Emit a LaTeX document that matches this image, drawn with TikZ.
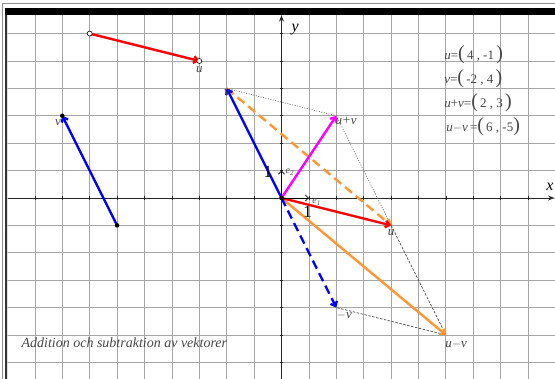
\documentclass[tikz,border=0pt]{standalone}
\usepackage{fontspec}
\setmainfont{Liberation Serif}
\usetikzlibrary{arrows.meta,positioning,calc}
\tikzset{every picture/.style={line width=0.75pt}}
\definecolor{vorange}{RGB}{255,150,50}
\definecolor{vmagenta}{RGB}{255,0,255}
\definecolor{lblgray}{RGB}{70,70,70}
\newcommand{\lpar}{{\fontsize{20}{20}\selectfont(}}
\newcommand{\rpar}{{\fontsize{20}{20}\selectfont)}}
\tikzset{
    gridline/.style={draw=black!35, line width=0.8pt},
    axisline/.style={draw=black!85, line width=0.9pt, -{Stealth[length=6pt,width=5pt]}},
    vec/.style={line width=2.4pt, -{Straight Barb[length=4pt,width=7pt]}},
    dvec/.style={vec, dash pattern=on 9pt off 5pt},
    helper/.style={draw=black!60, line width=0.7pt, dash pattern=on 1pt off 1.5pt},
    helperdash/.style={draw=black!75, line width=0.7pt, dash pattern=on 2.5pt off 1.5pt},
    lbl/.style={font=\itshape\fontsize{13}{13}\selectfont, text=lblgray, inner sep=1pt},
    unitvec/.style={draw=black, line width=0.8pt, -{Straight Barb[length=3pt,width=6pt]}},
    opendot/.style={circle, draw=black, fill=white, line width=0.6pt, inner sep=0pt, minimum size=5pt},
    fulldot/.style={circle, fill=black, inner sep=0pt, minimum size=4.5pt},
    coordtxt/.style={font=\fontsize{13}{13}\selectfont, text=lblgray, anchor=west, inner sep=0pt},
}
\begin{document}
\begin{tikzpicture}[x=27.4pt, y=27.4pt]
    \useasboundingbox (-10.274,-6.57) rectangle (9.982,7.226);
    % grid
    \begin{scope}
        \clip (-10.0,-6.57) rectangle (9.982,6.68);
        \foreach \i in {-10,...,10}
            \draw[gridline] (\i,-7) -- (\i,7);
        \foreach \j in {-7,...,7}
            \draw[gridline] (-11,\j) -- (11,\j);
    \end{scope}
    % frame
    \draw[black!45, line width=0.6pt] (-10.2,-6.6) -- (-10.2,7.12) -- (10.1,7.12);
    \draw[black!80, line width=2pt] (-10.06,-6.6) -- (-10.06,6.93);
    \fill[black] (-10.1,6.68) rectangle (10.1,6.93);
    % axes
    \draw[axisline] (-10,0) -- (9.95,0);
    \draw[axisline] (0,-6.6) -- (0,6.66);
    \foreach \i in {-9,...,9}
        \draw[black!85, line width=0.6pt] (\i,-0.06) -- (\i,0.06);
    \foreach \j in {-6,...,6}
        \draw[black!85, line width=0.6pt] (-0.06,\j) -- (0.06,\j);
    \node[font=\itshape\fontsize{16}{16}\selectfont, inner sep=0pt] (xlbl) at (9.8,0.4) {x};
    \node[font=\itshape\fontsize{16}{16}\selectfont, inner sep=0pt] (ylbl) at (0.5,6.15) {y};
    % points
    \coordinate (O) at (0,0);
    \coordinate (U) at (4,-1);
    \coordinate (V) at (-2,4);
    \coordinate (UpV) at (2,3);
    \coordinate (mV) at (2,-4);
    \coordinate (UmV) at (6,-5);
    \coordinate (E1) at (1,0);
    \coordinate (E2) at (0,1);
    \coordinate (Us) at (-7,6);
    \coordinate (Ue) at (-3,5);
    \coordinate (Vs) at (-6,-1);
    \coordinate (Ve) at (-8,3);
    % parallelogram helpers
    \draw[helper] (V) -- (UpV) -- (U);
    \draw[helperdash] (U) -- (UmV) -- (mV);
    % free vectors
    \draw[vec, red] (Us) -- (Ue);
    \draw[vec, blue] (Vs) -- (Ve);
    \node[opendot] (usdot) at (Us) {};
    \node[opendot] (uedot) at (Ue) {};
    \node[fulldot] (vsdot) at (Vs) {};
    \node[fulldot] (vedot) at (Ve) {};
    % vectors from origin
    \draw[vec, vorange] (O) -- (UmV);
    \draw[dvec, vorange] (V) -- (U);
    \draw[dvec, blue] (O) -- (mV);
    \draw[vec, blue] (O) -- (V);
    \draw[vec, red] (O) -- (U);
    \draw[vec, vmagenta] (O) -- (UpV);
    \draw[unitvec] (O) -- (E1);
    \draw[unitvec] (O) -- (E2);
    \node[fulldot] (odot) at (O) {};
    % labels
    \node[lbl, below=4pt of Ue] (ulbl1) {u};
    \node[lbl, below left=2pt and 0pt of Ve] (vlbl1) {v};
    \node[lbl, below right=0pt and -4pt of V] (vlbl2) {v};
    \node[lbl, below right=0pt and -2pt of UpV] (upvlbl) {u+v};
    \node[lbl, below=3pt of U] (ulbl2) {u};
    \node[lbl, below right=3pt and -1pt of mV] (mvlbl) {$-$v};
    \node[lbl, below right=4pt and -2pt of UmV] (umvlbl) {u$-$v};
    \node[font=\fontsize{17}{17}\selectfont, inner sep=0pt] (onev) at (-0.5,0.95) {1};
    \node[font=\fontsize{17}{17}\selectfont, inner sep=0pt] (oneh) at (0.95,-0.5) {1};
    \node[lbl, anchor=west, font=\itshape\fontsize{10}{10}\selectfont] (e2lbl) at (0.1,0.95) {e\textsubscript{2}};
    \node[lbl, anchor=west, font=\itshape\fontsize{10}{10}\selectfont] (e1lbl) at (1.08,-0.15) {e\textsubscript{1}};
    % coordinates
    \node[coordtxt] (cu) at (5.93,5.22) {\textit{u}=\lpar\,4 , -1\,\rpar};
    \node[coordtxt] (cv) at (5.93,4.34) {\textit{v}=\lpar\,-2 , 4\,\rpar};
    \node[coordtxt] (cupv) at (5.93,3.47) {\textit{u}+\textit{v}=\lpar\,2 , 3\,\rpar};
    \node[coordtxt] (cumv) at (6.0,2.59) {\textit{u}$-$\textit{v}\,=\lpar\,6 , -5\rpar};
    % title
    \node[font=\itshape\fontsize{14}{14}\selectfont, text=lblgray, anchor=west, inner sep=0pt] (title) at (-9.5,-5.3) {Addition och subtraktion av vektorer};
\end{tikzpicture}
\end{document}
